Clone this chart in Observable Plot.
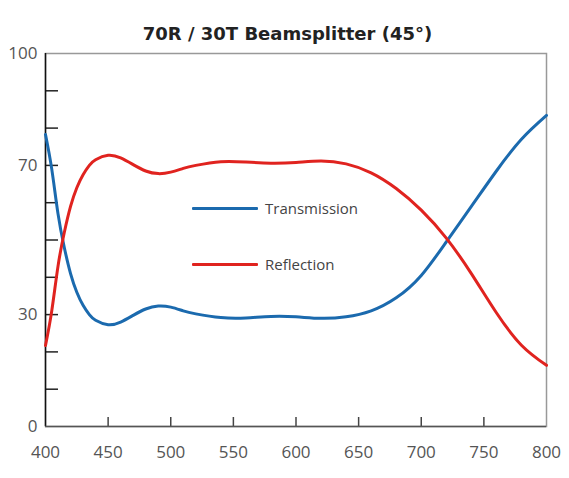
<!DOCTYPE html>
<html>
<head>
<meta charset="utf-8">
<script src="https://cdn.jsdelivr.net/npm/d3@7"></script>
<script src="https://cdn.jsdelivr.net/npm/@observablehq/plot@0.6"></script>
<style>
  html, body { margin: 0; padding: 0; background: #fff; }
  #wrap { position: relative; width: 569px; height: 478px; overflow: hidden; }
  #title { height: 46px; box-sizing: border-box; padding-top: 20px; padding-left: 6px; display: flex; align-items: center; justify-content: center;
    font-family: "DejaVu Sans", sans-serif; font-weight: bold; font-size: 18px; color: #222; }
  #legend { position: absolute; left: 192px; top: 0; font-family: "Open Sans", sans-serif; font-size: 15px; color: #444; }
  .item { position: absolute; left: 0; display: flex; align-items: center; white-space: nowrap; }
  .swatch { width: 66px; height: 3px; margin-right: 7px; border-radius: 1px; }
</style>
</head>
<body>
<div id="wrap">
  <div id="title"></div>
  <div id="chart"></div>
  <div id="legend"></div>
</div>
<script>
const title = "70R / 30T Beamsplitter (45°)";
const wavelength = [400,405,410,415,420,425,430,435,440,450,460,470,480,490,500,510,520,540,560,580,600,620,640,660,680,700,720,740,760,780,800];
const transmission = [78.3,69,57,48,41,36,32.5,30,28.5,27.3,28,29.8,31.5,32.3,32,31,30.2,29.2,29.1,29.5,29.4,29,29.4,31,34.5,40.5,49.5,59,68.5,77,83.4];
const reflection = [21.7,31,43,52,59,64,67.5,70,71.5,72.7,72,70.2,68.5,67.8,68.2,69.2,70,71,70.9,70.6,70.8,71.2,70.4,68,63.8,58,50.5,41,30.5,21.8,16.4];
const seriesNames = ["Transmission", "Reflection"];
const seriesColors = ["#1b6aae", "#e0231f"];
const xTicks = [400,450,500,550,600,650,700,750,800];
const xInnerTicks = [450,500,550,600,650,700,750];
const yTicks = [0,10,20,30,40,50,60,70,80,90,100];
const yLabels = [0,30,70,100];

document.getElementById("title").textContent = title;

const rows = [];
wavelength.forEach((w, i) => {
  rows.push({w, v: transmission[i], s: seriesNames[0]});
  rows.push({w, v: reflection[i], s: seriesNames[1]});
});

const W = 569, H = 432, mT = 7, mL = 45, mR = 23, mB = 52;
const fw = W - mL - mR, fh = H - mT - mB;

const plot = Plot.plot({
  width: W, height: H,
  marginTop: mT, marginLeft: mL, marginRight: mR, marginBottom: mB,
  style: {fontFamily: "'Open Sans', sans-serif", background: "#fff", overflow: "visible"},
  x: {domain: [400, 800]},
  y: {domain: [0, 100]},
  color: {domain: seriesNames, range: seriesColors},
  marks: [
    Plot.frame({stroke: "#999", strokeWidth: 1.5}),
    Plot.ruleY(yTicks.filter(d => d > 0 && d < 100), {y: d => d, stroke: "#222", strokeWidth: 1.5, insetRight: fw - 13}),
    Plot.ruleX(xInnerTicks, {x: d => d, stroke: "#444", strokeWidth: 1.5, insetTop: fh - 9}),
    Plot.ruleX([400], {stroke: "#111", strokeWidth: 1.5}),
    Plot.ruleY([0], {stroke: "#555", strokeWidth: 1.5}),
    Plot.line(rows, {x: "w", y: "v", stroke: "s", z: "s", strokeWidth: 3, curve: "natural"}),
    Plot.axisY(yLabels, {tickSize: 0, tickPadding: 8, fontSize: 17, fill: "#555", label: null}),
    Plot.axisX(xTicks, {tickSize: 0, tickPadding: 19, fontSize: 17, fill: "#555", label: null})
  ]
});
document.getElementById("chart").appendChild(plot);

const legend = document.getElementById("legend");
const legendY = [208, 264];
seriesNames.forEach((name, i) => {
  const item = document.createElement("div");
  item.className = "item";
  item.style.top = (legendY[i] - 11) + "px";
  item.style.height = "22px";
  const sw = document.createElement("div");
  sw.className = "swatch";
  sw.style.background = seriesColors[i];
  const t = document.createElement("span");
  t.textContent = name;
  item.appendChild(sw);
  item.appendChild(t);
  legend.appendChild(item);
});
</script>
</body>
</html>
